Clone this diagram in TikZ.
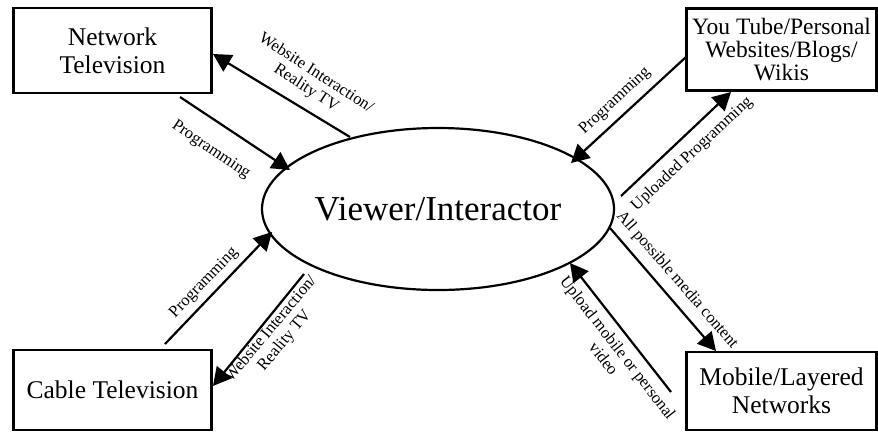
\documentclass[tikz,border=0pt]{standalone}
\usepackage{fontspec}
\setmainfont{Liberation Serif}
\usetikzlibrary{arrows.meta,shapes.geometric}
\begin{document}
\begin{tikzpicture}[x=1pt,y=-1pt,
  box/.style={draw,line width=2.4pt,inner sep=0pt,align=center,font=\fontsize{25.5}{28}\selectfont},
  conn/.style={line width=2.2pt,-{Triangle[length=18pt,width=19pt]}},
  lbl/.style={align=center,inner sep=0pt,font=\fontsize{16.5}{18}\selectfont}]
\useasboundingbox[fill=white] (0,0) rectangle (878,432);
% nodes
\node[box,minimum width=198pt,minimum height=85pt] (nt) at (112.5,50.5) {Network\\Television};
\node[box,minimum width=190pt,minimum height=82pt,font=\fontsize{23.5}{23}\selectfont] (yt) at (781.5,49.5) {You Tube/Personal\\Websites/Blogs/\\Wikis};
\node[box,minimum width=198pt,minimum height=80pt] (ct) at (112.5,390) {Cable Television};
\node[box,minimum width=190pt,minimum height=78pt] (ml) at (781.5,391) {Mobile/Layered\\Networks};
\node[draw,ellipse,line width=2.2pt,inner sep=0pt,minimum width=352pt,minimum height=162pt,font=\fontsize{35}{40}\selectfont] (vi) at (438,209) {Viewer/Interactor};
% connector ends
\coordinate (a1s) at (180,97);  \coordinate (a1e) at (290,170);
\coordinate (a2s) at (350,137); \coordinate (a2e) at (213,54);
\coordinate (a3s) at (686,57);  \coordinate (a3e) at (571,163);
\coordinate (a4s) at (621,196); \coordinate (a4e) at (731,92);
\coordinate (a5s) at (165,344); \coordinate (a5e) at (272,232);
\coordinate (a6s) at (304,274); \coordinate (a6e) at (213,386);
\coordinate (a7s) at (610,228); \coordinate (a7e) at (716,351);
\coordinate (a8s) at (671,392); \coordinate (a8e) at (570,263);
% connectors
\draw[conn] (a1s) -- (a1e);
\draw[conn] (a2s) -- (a2e);
\draw[conn] (a3s) -- (a3e);
\draw[conn] (a4s) -- (a4e);
\draw[conn] (a5s) -- (a5e);
\draw[conn] (a6s) -- (a6e);
\draw[conn] (a7s) -- (a7e);
\draw[conn] (a8s) -- (a8e);
% labels
\node[lbl,rotate=-34] (l1) at (211,150) {Programming};
\node[lbl,rotate=-33] (l2) at (311,81) {Website Interaction/\\Reality TV};
\node[lbl,rotate=43] (l3) at (615,101) {Programming};
\node[lbl,rotate=43] (l4) at (692,154) {Uploaded Programming};
\node[lbl,rotate=46] (l5) at (204,283) {Programming};
\node[lbl,rotate=50] (l6) at (278,335) {Website Interaction/\\Reality TV};
\node[lbl,rotate=-49] (l7) at (677,280) {All possible media content};
\node[lbl,rotate=-52] (l8) at (611,353) {Upload mobile or personal\\video};
\end{tikzpicture}
\end{document}
